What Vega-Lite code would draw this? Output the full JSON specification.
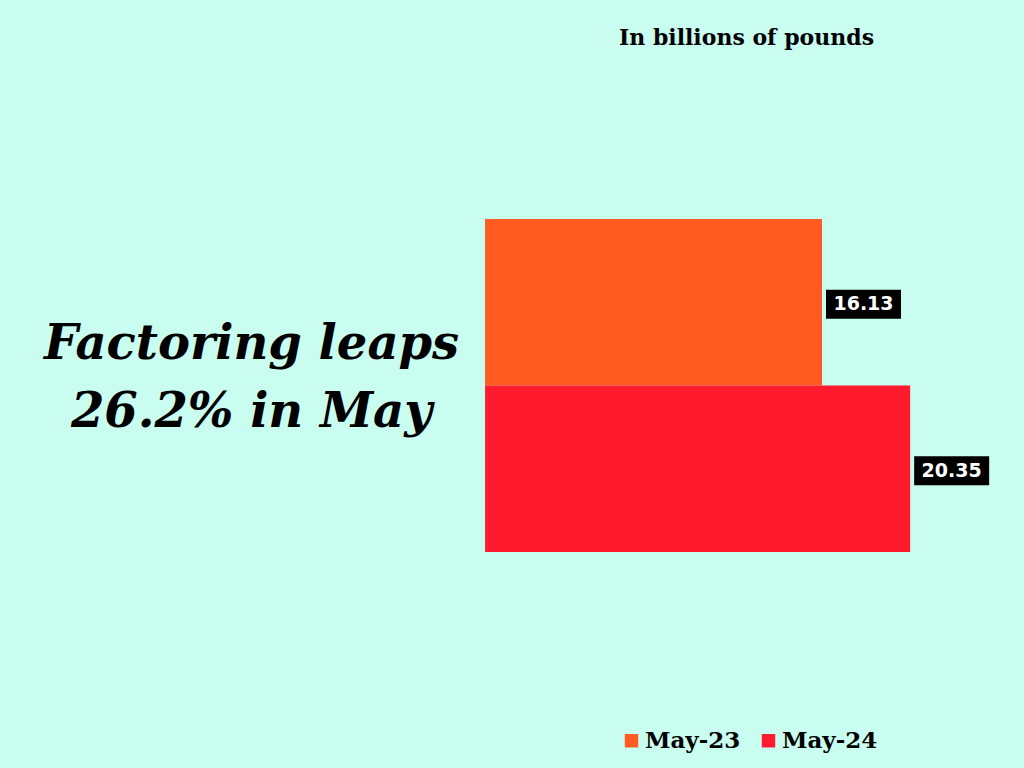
{
  "$schema": "https://vega.github.io/schema/vega-lite/v6.json",
  "autosize": {"type": "fit", "contains": "padding"},
  "width": 1024,
  "height": 768,
  "padding": 0,
  "background": "#c8fdf0",
  "config": {"view": {"stroke": null}},
  "data": {"values": [
    {"period": "May-23", "value": 16.13},
    {"period": "May-24", "value": 20.35}
  ]},
  "encoding": {
    "y": {
      "field": "period", "type": "nominal",
      "scale": {"domain": ["May-23", "May-24"], "range": [219, 552], "paddingInner": 0, "paddingOuter": 0},
      "axis": {
        "labels": false, "ticks": false, "domain": false, "grid": false,
        "title": ["Factoring leaps", "26.2% in May"],
        "titleAngle": 0, "titleX": 251, "titleY": 358,
        "titleAlign": "center", "titleBaseline": "alphabetic",
        "titleFont": "DejaVu Serif", "titleFontStyle": "italic", "titleFontWeight": "bold",
        "titleFontSize": 48, "titleLineHeight": 68, "titleColor": "#000000"
      }
    },
    "x": {
      "field": "value", "type": "quantitative",
      "scale": {"domain": [-23.22, 25.8], "nice": false, "zero": false},
      "axis": {
        "orient": "top", "labels": false, "ticks": false, "domain": false, "grid": false,
        "title": "In billions of pounds",
        "titleX": 746, "titleY": 44, "titleAlign": "center", "titleBaseline": "alphabetic",
        "titleFont": "DejaVu Serif", "titleFontWeight": "bold", "titleFontSize": 22, "titleColor": "#000000"
      }
    }
  },
  "layer": [
    {
      "mark": {"type": "bar"},
      "encoding": {
        "x": {"field": "value", "type": "quantitative"},
        "x2": {"datum": 0},
        "color": {
          "field": "period", "type": "nominal",
          "scale": {"domain": ["May-23", "May-24"], "range": ["#ff5a1f", "#ff1a2e"]},
          "legend": {
            "orient": "none", "legendX": 620, "legendY": 729, "direction": "horizontal",
            "title": null, "symbolType": "square", "symbolSize": 180, "symbolStrokeWidth": 0,
            "labelFont": "DejaVu Serif", "labelFontWeight": "bold", "labelFontSize": 23,
            "labelColor": "#000000", "labelOffset": 2, "columnPadding": 16
          }
        }
      }
    },
    {
      "mark": {"type": "point", "filled": true, "color": "#000000", "opacity": 1,
        "shape": "M0.107,-0.387L2.107,-0.387L2.107,0.387L0.107,0.387Z",
        "size": 5625, "yOffset": 2, "strokeWidth": 0}
    },
    {
      "mark": {"type": "text", "color": "#ffffff", "font": "DejaVu Sans", "fontWeight": "bold",
        "fontSize": 19, "align": "center", "baseline": "middle", "dx": 41.5, "dy": 2},
      "encoding": {"text": {"field": "value", "type": "quantitative", "format": ".2f"}}
    }
  ]
}
